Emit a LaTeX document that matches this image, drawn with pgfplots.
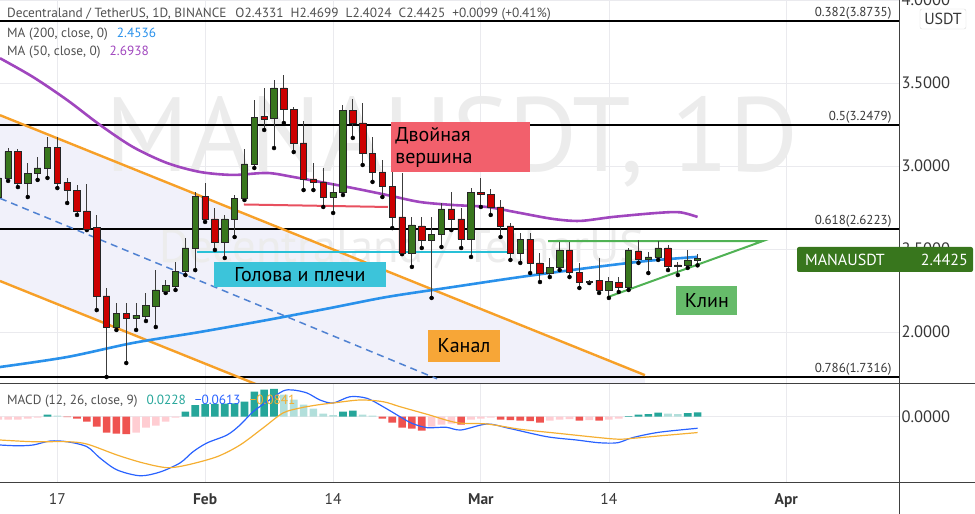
\documentclass[border=0pt]{standalone}
\usepackage{fontspec}
\setmainfont{PT Sans}
\usepackage{graphicx}
\usepackage{pgfplots}
\usepackage{pgfplotstable}
\pgfplotsset{compat=1.18}

\definecolor{cgreen}{RGB}{56,118,29}
\definecolor{cred}{RGB}{204,0,0}
\definecolor{wickc}{RGB}{60,60,60}
\definecolor{ma50}{RGB}{160,70,190}
\definecolor{ma200}{RGB}{41,145,235}
\definecolor{chanor}{RGB}{247,160,40}
\definecolor{chanmid}{RGB}{80,130,210}
\definecolor{chanfill}{RGB}{241,241,250}
\definecolor{gridc}{RGB}{234,234,238}
\definecolor{cyanl}{RGB}{40,192,215}
\definecolor{cyanbox}{RGB}{60,196,218}
\definecolor{redl}{RGB}{232,80,95}
\definecolor{redbox}{RGB}{242,96,108}
\definecolor{greenl}{RGB}{80,178,84}
\definecolor{greenbox}{RGB}{102,187,106}
\definecolor{orbox}{RGB}{247,166,55}
\definecolor{txt}{RGB}{80,80,80}
\definecolor{scale}{RGB}{55,55,55}
\definecolor{labgreen}{RGB}{56,118,29}
\definecolor{hT}{RGB}{38,166,154}
\definecolor{hLT}{RGB}{178,223,219}
\definecolor{hR}{RGB}{239,83,80}
\definecolor{hP}{RGB}{255,205,210}
\definecolor{macdb}{RGB}{41,98,255}
\definecolor{sigo}{RGB}{245,175,50}
\definecolor{wm}{RGB}{236,236,236}

\pgfplotstableread{
d O H L C
-6 2.814 2.965 2.796 2.929
-5 2.927 3.109 2.911 3.087
-4 3.087 3.103 2.874 2.897
-3 2.897 3.019 2.814 2.957
-2 2.959 3.055 2.917 2.989
-1 2.989 3.176 2.929 3.115
0 3.115 3.176 2.868 2.898
1 2.904 2.929 2.778 2.856
2 2.856 2.887 2.706 2.730
3 2.730 2.893 2.615 2.621
4 2.633 2.706 2.133 2.218
5 2.218 2.266 1.730 2.031
6 2.031 2.176 2.013 2.115
7 2.115 2.176 1.814 2.085
8 2.085 2.176 2.013 2.103
9 2.097 2.236 2.067 2.163
10 2.157 2.374 2.031 2.254
11 2.248 2.314 2.236 2.284
12 2.278 2.423 2.254 2.368
13 2.368 2.567 2.344 2.507
14 2.507 2.844 2.374 2.820
15 2.820 2.899 2.664 2.682
16 2.682 2.748 2.495 2.543
17 2.543 2.706 2.447 2.682
18 2.682 2.826 2.573 2.808
19 2.808 3.103 2.796 3.013
20 3.013 3.398 2.989 3.296
21 3.302 3.471 3.218 3.284
22 3.290 3.519 3.109 3.471
23 3.471 3.549 3.260 3.344
24 3.344 3.356 3.085 3.140
25 3.140 3.272 2.856 2.923
26 2.923 3.019 2.856 2.905
27 2.905 2.989 2.754 2.814
28 2.814 2.899 2.718 2.844
29 2.844 3.368 2.826 3.338
30 3.338 3.404 3.170 3.260
31 3.260 3.380 3.007 3.079
32 3.079 3.176 2.905 2.965
33 2.965 3.037 2.814 2.880
34 2.880 2.977 2.627 2.694
35 2.694 2.959 2.470 2.477
36 2.477 2.694 2.393 2.646
37 2.640 2.694 2.507 2.555
38 2.555 2.694 2.206 2.591
39 2.591 2.778 2.513 2.742
40 2.742 2.844 2.615 2.682
41 2.682 2.748 2.507 2.561
42 2.561 2.868 2.453 2.844
43 2.844 2.929 2.754 2.832
44 2.832 2.862 2.706 2.754
45 2.754 2.796 2.573 2.640
46 2.640 2.658 2.435 2.477
47 2.477 2.597 2.417 2.561
48 2.561 2.597 2.356 2.417
49 2.417 2.477 2.302 2.356
50 2.356 2.447 2.332 2.392
51 2.392 2.543 2.374 2.495
52 2.495 2.543 2.332 2.362
53 2.362 2.417 2.266 2.302
54 2.308 2.314 2.296 2.302
55 2.314 2.447 2.236 2.254
56 2.254 2.332 2.206 2.308
57 2.302 2.332 2.242 2.272
58 2.272 2.507 2.254 2.495
59 2.489 2.555 2.417 2.441
60 2.441 2.483 2.356 2.453
61 2.453 2.549 2.435 2.507
62 2.507 2.525 2.374 2.399
63 2.405 2.423 2.344 2.399
64 2.405 2.495 2.387 2.435
65 2.4331 2.4699 2.4024 2.4425
}\candles

\begin{document}
\begin{tikzpicture}
\useasboundingbox (0,0) rectangle (975pt,514pt);
\pgfplotsset{
  panel/.style={scale only axis, width=899pt, xmin=-5.82, xmax=85.45, anchor=south west,
    axis line style={draw=none}, major tick length=0pt},
}
% ---------------- price panel ----------------
\begin{axis}[panel, at={(0pt,131pt)}, height=383pt, ymin=1.6937, ymax=4.0009,
  xtick={0,15,28,43,56,74}, xticklabels={}, xmajorgrids,
  ytick={2,2.5,3,3.5,4}, yticklabels={2.0000,2.5000,3.0000,3.5000,4.0000},
  ymajorgrids, grid style={gridc, line width=0.8pt},
  yticklabel pos=right,
  yticklabel style={anchor=west, xshift=-1pt, font=\fontsize{16.5}{16.5}\selectfont, text=scale},
]
% channel fill
\addplot[fill=chanfill, draw=none] coordinates {(-5.82,3.307) (59.66,1.741) (59.66,0.7425) (-5.82,2.308)} -- cycle;
% watermarks
\node[text=wm] at (axis cs:40.07,3.1455) {\resizebox{692pt}{!}{MANAUSDT, 1D}};
\node[text=wm] at (axis cs:34.98,2.501) {\resizebox{485pt}{!}{Decentraland / TetherUS}};
% fib lines
\addplot[black, line width=1.6pt] coordinates {(-5.82,3.8735) (85.45,3.8735)};
\addplot[black, line width=1.6pt] coordinates {(-5.82,3.2479) (85.45,3.2479)};
\addplot[black, line width=1.6pt] coordinates {(-5.82,2.6223) (85.45,2.6223)};
\addplot[black, line width=1.6pt] coordinates {(-5.82,1.7316) (85.45,1.7316)};
\node[anchor=south east, font=\fontsize{13}{13}\selectfont, text=scale, inner sep=1.5pt] at (axis cs:84.85,3.8735) {0.382(3.8735)};
\node[anchor=south east, font=\fontsize{13}{13}\selectfont, text=scale, inner sep=1.5pt] at (axis cs:84.85,3.2479) {0.5(3.2479)};
\node[anchor=south east, font=\fontsize{13}{13}\selectfont, text=scale, inner sep=1.5pt] at (axis cs:84.85,2.6223) {0.618(2.6223)};
\node[anchor=south east, font=\fontsize{13}{13}\selectfont, text=scale, inner sep=1.5pt] at (axis cs:84.85,1.7316) {0.786(1.7316)};
% channel lines
\addplot[chanor, line width=2.4pt] coordinates {(-5.82,3.307) (59.66,1.741)};
\addplot[chanor, line width=2.4pt] coordinates {(-5.82,2.308) (59.66,0.7425)};
\addplot[chanmid, line width=1.5pt, dash pattern=on 7pt off 5pt] coordinates {(-5.82,2.806) (38.55,1.719)};
% moving averages
\addplot[ma50, line width=2.6pt, smooth] coordinates {
(-5.82,3.650) (-2.47,3.537) (0.98,3.399) (4.34,3.248) (7.69,3.115) (11.14,3.019)
(14.49,2.965) (17.84,2.947) (21.29,2.959) (23.93,2.935) (26.67,2.905) (30.02,2.868)
(33.47,2.826) (36.82,2.784) (40.17,2.766) (43.62,2.754) (46.97,2.718) (50.32,2.682)
(53.06,2.670) (56.41,2.694) (60.88,2.718) (63.22,2.722) (65,2.6938)};
\addplot[ma200, line width=2.6pt, smooth] coordinates {
(-5.82,1.790) (0.98,1.850) (7.69,1.935) (14.49,2.001) (21.29,2.073) (27.69,2.145)
(33.47,2.212) (40.17,2.272) (46.97,2.332) (53.78,2.386) (59.87,2.429) (65,2.4536)};
% pattern lines
\addplot[redl, line width=2pt] coordinates {(18.95,2.769) (33.57,2.754)};
\addplot[cyanl, line width=2.4pt] coordinates {(14.18,2.4829) (45.65,2.4829)};
\addplot[greenl, line width=2pt] coordinates {(49.82,2.549) (71.64,2.549) (55.91,2.2118)};
% wicks
\addplot[only marks, mark=none,
  error bars/.cd, y dir=plus, y explicit, error mark=none,
  error bar style={line width=1pt, draw=wickc, solid}]
  table[x=d, y=L, y error expr=\thisrow{H}-\thisrow{L}] {\candles};
\end{axis}

% ---------------- candle bodies ----------------
\begin{axis}[panel, at={(0pt,131pt)}, height=383pt, ymin=1.6937, ymax=4.0009, hide axis,
  ybar stacked, bar width=6.4pt]
\addplot[fill=none, draw=none] table[x=d, y expr={min(\thisrow{O},\thisrow{C})}] {\candles};
\addplot[fill=cgreen, draw=black!85, line width=0.7pt] table[x=d, y expr={max(\thisrow{C}-\thisrow{O},0)}] {\candles};
\addplot[fill=cred, draw=black!85, line width=0.7pt] table[x=d, y expr={max(\thisrow{O}-\thisrow{C},0)}] {\candles};
\node[fill=cyanbox, minimum width=172pt, minimum height=25pt, inner sep=0pt,
  font=\fontsize{20}{20}\selectfont, text=black] at (axis cs:24.64,2.3473) {Голова и плечи};
\node[fill=redbox, text width=131pt, minimum height=50pt, inner sep=4pt, align=left,
  font=\fontsize{20}{22}\selectfont, text=black] at (axis cs:40.96,3.1154) {Двойная\\вершина};
\node[fill=orbox, minimum width=72pt, minimum height=32pt, inner sep=0pt,
  font=\fontsize{20}{20}\selectfont, text=black] at (axis cs:41.29,1.9166) {Канал};
\node[fill=greenbox, minimum width=61pt, minimum height=29pt, inner sep=0pt,
  font=\fontsize{20}{20}\selectfont, text=black] at (axis cs:65.94,2.1907) {Клин};
\end{axis}

% ---------------- MACD panel ----------------
\begin{axis}[panel, at={(0pt,32pt)}, height=99pt, ymin=-0.346, ymax=0.1786,
  xtick={0,15,28,43,56,74}, xticklabels={17,\textbf{Feb},14,\textbf{Mar},14,\textbf{Apr}},
  xmajorgrids, ymajorgrids, grid style={gridc, line width=0.8pt},
  ytick={0}, yticklabels={0.0000}, yticklabel pos=right,
  yticklabel style={anchor=west, xshift=-1pt, font=\fontsize{16.5}{16.5}\selectfont, text=scale},
  xticklabel style={font=\fontsize{15.5}{15.5}\selectfont, text=scale, yshift=-8pt},
]
\addplot[ybar, bar width=7.6pt, bar shift=0pt, fill=hT, draw=none] coordinates {
(-1,0.0106) (13,0.0265) (14,0.061) (15,0.066) (16,0.068) (17,0.069) (18,0.0705) (19,0.0795)
(20,0.1325) (21,0.143) (22,0.148) (29,0.0265) (30,0.0318) (58,0.0027) (59,0.0106)
(60,0.0133) (61,0.0212) (64,0.0186) (65,0.0228)};
\addplot[ybar, bar width=7.6pt, bar shift=0pt, fill=hLT, draw=none] coordinates {
(0,0.0053) (23,0.117) (24,0.090) (25,0.0636) (26,0.0424) (27,0.0159) (28,0.008)
(31,0.0106) (32,0.0053) (62,0.0159) (63,0.0133)};
\addplot[ybar, bar width=7.6pt, bar shift=0pt, fill=hR, draw=none] coordinates {
(1,-0.0027) (2,-0.0106) (3,-0.0265) (4,-0.053) (5,-0.0848) (6,-0.0901) (7,-0.0928)
(33,-0.0106) (34,-0.0318) (35,-0.0583) (36,-0.0636) (37,-0.0742) (41,-0.0424)
(45,-0.0159) (46,-0.0186) (47,-0.0212) (48,-0.0239) (49,-0.0318) (53,-0.0212) (55,-0.0212)};
\addplot[ybar, bar width=7.6pt, bar shift=0pt, fill=hP, draw=none] coordinates {
(-6,-0.0159) (-5,-0.0159) (-4,-0.0159) (-3,-0.0106) (-2,-0.0053) (8,-0.0848) (9,-0.0583)
(10,-0.0477) (11,-0.0265) (12,-0.0053) (38,-0.053) (39,-0.0424) (40,-0.0371) (42,-0.0159)
(43,-0.0106) (44,-0.0053) (50,-0.0212) (51,-0.0159) (52,-0.0133) (54,-0.0186) (56,-0.0159) (57,-0.0106)};
\addplot[macdb, line width=1.2pt, smooth] coordinates {
(-5.82,-0.150) (-4.09,-0.154) (-2.47,-0.150) (-0.74,-0.129) (0.98,-0.1325) (3.01,-0.159)
(4.33,-0.219) (6.06,-0.282) (8.4,-0.313) (10.43,-0.293) (12.46,-0.245) (13.78,-0.1855)
(15.2,-0.139) (17.23,-0.097) (18.55,-0.044) (19.87,0.0265) (21.29,0.0795) (22.91,0.136)
(23.93,0.1415) (25.35,0.1256) (26.67,0.0885) (28.0,0.0726) (29.72,0.106) (31.44,0.0975)
(33.07,0.053) (34.79,0.0) (36.0,-0.035) (37.54,-0.058) (39.46,-0.056) (40.98,-0.0705)
(43.62,-0.0387) (45.86,-0.0615) (49.7,-0.106) (52.72,-0.1235) (55.0,-0.138) (56.88,-0.138)
(58.4,-0.111) (61.06,-0.0827) (65,-0.0613)};
\addplot[sigo, line width=1.2pt, smooth] coordinates {
(-5.82,-0.1235) (-2.47,-0.1325) (0.98,-0.1325) (3.01,-0.145) (6.06,-0.203) (8.7,-0.245)
(11.13,-0.270) (13.17,-0.256) (16.21,-0.212) (18.55,-0.150) (20.88,-0.060) (22.91,0.0196)
(24.64,0.046) (26.36,0.062) (28.0,0.0726) (30.73,0.0885) (33.07,0.0795) (34.79,0.053)
(37.54,0.0127) (40.58,-0.0318) (43.62,-0.0387) (47.03,-0.0668) (50.83,-0.088)
(56.52,-0.118) (58.4,-0.1145) (61.06,-0.102) (65,-0.0841)};
\end{axis}

% ---------------- frame and overlays ----------------
\draw[black!75, line width=0.9pt] (899pt,0pt) -- (899pt,514pt);
\draw[black!75, line width=0.9pt] (0pt,131pt) -- (975pt,131pt);
\draw[black!75, line width=0.9pt] (0pt,32pt) -- (975pt,32pt);

\node[anchor=west, inner sep=0pt, font=\fontsize{13.3}{13.3}\selectfont, text=txt] at (7pt,500pt)
  {Decentraland / TetherUS, 1D, BINANCE\hspace{9pt}O2.4331\hspace{7pt}H2.4699\hspace{7pt}L2.4024\hspace{7pt}C2.4425\hspace{7pt}+0.0099 (+0.41\%)};
\node[anchor=west, inner sep=0pt, font=\fontsize{13.3}{13.3}\selectfont, text=txt] at (7pt,480pt)
  {MA (200, close, 0)\hspace{9pt}\textcolor{ma200}{2.4536}};
\node[anchor=west, inner sep=0pt, font=\fontsize{13.3}{13.3}\selectfont, text=txt] at (7pt,462pt)
  {MA (50, close, 0)\hspace{9pt}\textcolor{ma50}{2.6938}};
\node[anchor=west, inner sep=0pt, font=\fontsize{13.3}{13.3}\selectfont, text=txt] at (7pt,113pt)
  {MACD (12, 26, close, 9)\hspace{9pt}\textcolor{hT}{0.0228}\hspace{9pt}\textcolor{macdb}{−0.0613}\hspace{9pt}\textcolor{sigo}{−0.0841}};

% price label
\fill[labgreen, rounded corners=2pt] (797pt,242pt) rectangle (973pt,267pt);
\node[anchor=west, text=white, font=\fontsize{16}{16}\selectfont, inner sep=0pt] at (805pt,254.5pt) {MANAUSDT};
\node[anchor=east, text=white, font=\fontsize{16}{16}\selectfont, inner sep=0pt] at (968pt,254.5pt) {2.4425};
% USDT box
\draw[draw=black!15, fill=white, rounded corners=2pt] (920pt,485pt) rectangle (966pt,505pt);
\node[text=scale, font=\fontsize{16}{16}\selectfont, inner sep=0pt] at (943pt,495pt) {USDT};
\end{tikzpicture}
\end{document}
